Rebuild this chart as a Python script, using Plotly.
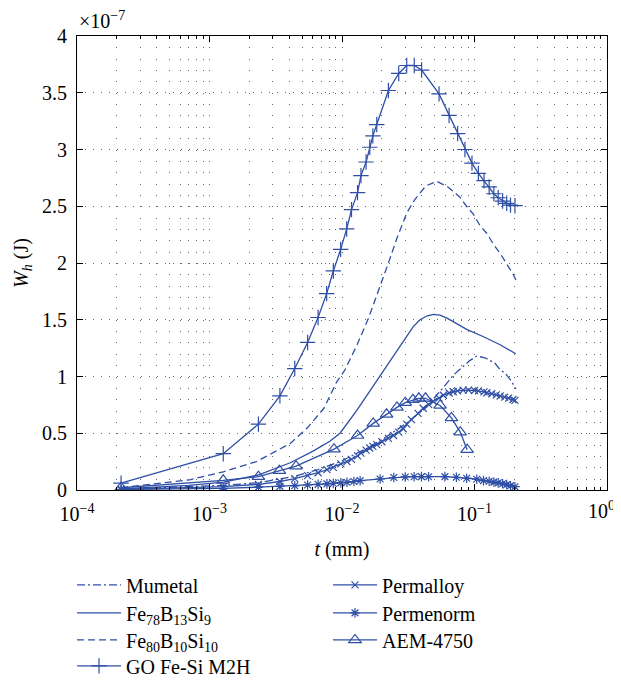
import plotly.graph_objects as go

# ---- data (W_h in units of 1e-7 J, t in mm) ----
mu_t = [2.15e-4, 1.27e-3, 2.34e-3, 4.4e-3, 6.6e-3, 9.66e-3, 1.5e-2, 2.05e-2, 3.08e-2, 4.36e-2,
        5.3e-2, 5.8e-2, 6.9e-2, 8.2e-2, 9.2e-2, 0.104, 0.12, 0.143, 0.156, 0.17, 0.19, 0.205]
mu_w = [0.01, 0.04, 0.065, 0.12, 0.18, 0.25, 0.36, 0.45, 0.59, 0.73,
        0.85, 0.90, 1.01, 1.09, 1.14, 1.18, 1.165, 1.116, 1.06, 1.03, 0.96, 0.89]

fe78_t = [2.15e-4, 7e-4, 1.27e-3, 2.3e-3, 4.07e-3, 6e-3, 8.1e-3, 9.66e-3, 1.29e-2, 1.6e-2,
          2.1e-2, 2.74e-2, 3.45e-2, 3.88e-2, 4.4e-2, 4.9e-2, 5.5e-2, 6.3e-2, 7.5e-2, 8.73e-2,
          0.117, 0.156, 0.205]
fe78_w = [0.01, 0.04, 0.07, 0.13, 0.24, 0.34, 0.43, 0.50, 0.70, 0.86,
          1.06, 1.26, 1.44, 1.50, 1.535, 1.548, 1.54, 1.51, 1.46, 1.415,
          1.35, 1.28, 1.20]

fe80_t = [2.15e-4, 7.1e-4, 1.27e-3, 2.26e-3, 4.07e-3, 5.5e-3, 7.3e-3, 9.1e-3, 1.055e-2, 1.3e-2,
          1.58e-2, 1.9e-2, 2.24e-2, 2.6e-2, 3.08e-2, 3.55e-2, 4.3e-2, 5.19e-2, 6.3e-2, 7.76e-2,
          8.7e-2, 9.8e-2, 0.11, 0.124, 0.14, 0.156, 0.175, 0.196, 0.205]
fe80_w = [0.02, 0.09, 0.16, 0.25, 0.41, 0.55, 0.72, 0.95, 1.06, 1.28,
          1.51, 1.76, 2.0, 2.22, 2.44, 2.56, 2.68, 2.72, 2.67, 2.58,
          2.50, 2.43, 2.33, 2.26, 2.16, 2.085, 1.99, 1.90, 1.85]

gofesi_t = [2.15e-4, 1.27e-3, 2.34e-3, 3.4e-3, 4.4e-3, 5.5e-3, 6.6e-3, 7.66e-3, 8.6e-3, 9.77e-3,
            1.085e-2, 1.18e-2, 1.31e-2, 1.39e-2, 1.52e-2, 1.62e-2, 1.71e-2, 1.83e-2, 2.24e-2, 2.68e-2,
            3.08e-2, 3.51e-2, 3.99e-2, 5.4e-2, 6.43e-2, 7.46e-2, 8.47e-2, 9.57e-2, 0.107, 0.118,
            0.129, 0.140, 0.151, 0.163, 0.175, 0.187, 0.202]
gofesi_w = [0.06, 0.32, 0.58, 0.83, 1.07, 1.30, 1.52, 1.73, 1.93, 2.12,
            2.30, 2.47, 2.62, 2.77, 2.89, 3.02, 3.12, 3.22, 3.52, 3.67,
            3.74, 3.74, 3.70, 3.49, 3.30, 3.14, 3.00, 2.88, 2.79, 2.725,
            2.67, 2.61, 2.575, 2.546, 2.526, 2.51, 2.505]

perm_t = [2.15e-4, 1.27e-3, 2.34e-3, 3.4e-3, 4.4e-3, 5.5e-3, 6.6e-3, 7.7e-3, 8.6e-3, 9.8e-3,
          1.09e-2, 1.18e-2, 1.31e-2, 1.39e-2, 1.52e-2, 1.62e-2, 1.71e-2, 1.83e-2, 2.0e-2, 2.24e-2,
          2.45e-2, 2.68e-2, 2.9e-2, 3.08e-2, 3.34e-2, 3.75e-2, 4.1e-2, 4.5e-2, 4.9e-2, 5.4e-2,
          5.82e-2, 6.43e-2, 6.9e-2, 7.46e-2, 8.2e-2, 9.0e-2, 0.10, 0.107, 0.118, 0.124,
          0.135, 0.146, 0.156, 0.169, 0.181, 0.195, 0.202]
perm_w = [0.005, 0.03, 0.05, 0.075, 0.10, 0.126, 0.152, 0.18, 0.20, 0.23,
          0.25, 0.27, 0.30, 0.325, 0.352, 0.37, 0.385, 0.40, 0.425, 0.455,
          0.48, 0.51, 0.54, 0.58, 0.62, 0.675, 0.72, 0.755, 0.78, 0.81,
          0.835, 0.855, 0.866, 0.874, 0.88, 0.88, 0.877, 0.873, 0.864, 0.857,
          0.848, 0.838, 0.828, 0.818, 0.81, 0.797, 0.79]

pnorm_t = [2.15e-4, 1.27e-3, 2.34e-3, 3.4e-3, 4.4e-3, 5.5e-3, 6.6e-3, 7.7e-3, 8.6e-3, 9.8e-3,
           1.09e-2, 1.23e-2, 1.37e-2, 1.94e-2, 2.46e-2, 3.0e-2, 3.5e-2, 3.98e-2, 4.5e-2, 5.98e-2,
           7.3e-2, 8.73e-2, 0.104, 0.117, 0.129, 0.140, 0.151, 0.163, 0.175, 0.187, 0.202]
pnorm_w = [0.005, 0.015, 0.025, 0.032, 0.037, 0.044, 0.05, 0.054, 0.058, 0.063,
           0.068, 0.075, 0.082, 0.097, 0.11, 0.115, 0.117, 0.118, 0.117, 0.118,
           0.112, 0.104, 0.095, 0.083, 0.077, 0.070, 0.063, 0.055, 0.047, 0.038, 0.029]

aem_t = [2.15e-4, 1.27e-3, 2.34e-3, 3.37e-3, 4.5e-3, 8.7e-3, 1.31e-2, 1.72e-2, 2.17e-2, 2.6e-2,
         3.0e-2, 3.43e-2, 3.8e-2, 4.27e-2, 5.5e-2, 6.7e-2, 7.8e-2, 8.8e-2]
aem_w = [0.02, 0.085, 0.117, 0.17, 0.21, 0.36, 0.48, 0.587, 0.667, 0.728,
         0.77, 0.795, 0.808, 0.808, 0.745, 0.635, 0.51, 0.355]

x_tickvals = [1e-4, 1e-3, 1e-2, 1e-1, 1]
x_ticktext = ["10<sup>−4</sup>", "10<sup>−3</sup>", "10<sup>−2</sup>", "10<sup>−1</sup>", "10<sup>0</sup>"]
y_tickvals = [0, 0.5, 1, 1.5, 2, 2.5, 3, 3.5, 4]
y_ticktext = ["0", "0.5", "1", "1.5", "2", "2.5", "3", "3.5", "4"]

BLUE = "#2f4fa5"
FONT = "Liberation Serif"
LW = 1.3

# legend slots (paper coords): (x, y) for each trace's own legend
LEG_X1, LEG_X2 = -0.0094, 0.4736
ROW_Y = [-0.166, -0.2277, -0.2872, -0.3445]

fig = go.Figure()
legend_layout = {}

def add(idx, t, w, name, pos, dash="solid", symbol=None, msize=8):
    lname = "legend" if idx == 1 else f"legend{idx}"
    mode = "lines+markers" if symbol else "lines"
    kw = {}
    if symbol:
        kw["marker"] = dict(symbol=symbol, size=msize, color=BLUE,
                            line=dict(color=BLUE, width=1.2))
    fig.add_trace(go.Scatter(x=t, y=w, name=name, mode=mode,
                             line=dict(color=BLUE, width=LW, dash=dash),
                             legend=lname, **kw))
    legend_layout[lname] = dict(x=pos[0], y=pos[1], xanchor="left", yanchor="top",
                                font=dict(family=FONT, size=20, color="black"),
                                bgcolor="rgba(0,0,0,0)", itemwidth=44)

add(1, mu_t, mu_w, "Mumetal", (LEG_X1, ROW_Y[0]), dash="8px,3px,2px,3px")
add(2, fe78_t, fe78_w, "Fe<sub>78</sub>B<sub>13</sub>Si<sub>9</sub>", (LEG_X1, ROW_Y[1]))
add(3, fe80_t, fe80_w, "Fe<sub>80</sub>B<sub>10</sub>Si<sub>10</sub>", (LEG_X1, ROW_Y[2]), dash="7px,4px")
add(4, gofesi_t, gofesi_w, "GO Fe-Si M2H", (LEG_X1, ROW_Y[3]), symbol="cross-thin-open", msize=11)
add(5, perm_t, perm_w, "Permalloy", (LEG_X2, ROW_Y[0]), symbol="x-thin-open", msize=7)
add(6, pnorm_t, pnorm_w, "Permenorm", (LEG_X2, ROW_Y[1]), symbol="asterisk-open", msize=8)
add(7, aem_t, aem_w, "AEM-4750", (LEG_X2, ROW_Y[2]), symbol="triangle-up-open", msize=11)

minor_vals = [m * 10 ** e for e in range(-4, 0) for m in range(2, 10)]

fig.update_xaxes(
    type="log", range=[-4, 0],
    tickmode="array", tickvals=x_tickvals, ticktext=x_ticktext[:-1] + [""],
    ticks="inside", ticklen=6, tickcolor="black", ticklabelstandoff=6,
    ticklabeloverflow="allow",
    showline=True, linecolor="black", linewidth=1, mirror="allticks",
    showgrid=True, gridcolor="#666", gridwidth=1, griddash="1px,10.35px",
    minor=dict(tickmode="array", tickvals=minor_vals, ticks="inside", ticklen=3,
               tickcolor="black", showgrid=True, gridcolor="#666", gridwidth=1,
               griddash="1px,10.35px"),
    zeroline=False,
    tickfont=dict(family=FONT, size=20, color="black"),
    title=dict(text="<i>t</i> (mm)", font=dict(family=FONT, size=20, color="black"), standoff=17),
)
fig.update_yaxes(
    range=[0, 4], tickmode="array", tickvals=y_tickvals, ticktext=y_ticktext,
    ticks="inside", ticklen=6, tickcolor="black", ticklabelstandoff=5,
    showline=True, linecolor="black", linewidth=1, mirror="allticks",
    showgrid=True, gridcolor="#666", gridwidth=1, griddash="1px,7px",
    zeroline=False,
    tickfont=dict(family=FONT, size=20, color="black"),
    title=dict(text="<i>W<sub>h</sub></i> (J)", font=dict(family=FONT, size=20, color="black"), standoff=8),
)

fig.update_layout(
    width=621, height=674,
    margin=dict(l=69, r=22, t=28, b=192, autoexpand=False),
    paper_bgcolor="white", plot_bgcolor="white",
    showlegend=True,
    annotations=[
        dict(text="×10<sup>−7</sup>", xref="paper", yref="paper", x=0, y=1.0,
             xanchor="left", yanchor="bottom", showarrow=False, yshift=2,
             font=dict(family=FONT, size=20, color="black")),
        dict(text=x_ticktext[-1], xref="x", yref="paper", x=0, y=0,
             xanchor="right", yanchor="top", showarrow=False, xshift=10, yshift=-6,
             font=dict(family=FONT, size=20, color="black")),
    ],
    **legend_layout,
)

fig.write_html("out.html")
